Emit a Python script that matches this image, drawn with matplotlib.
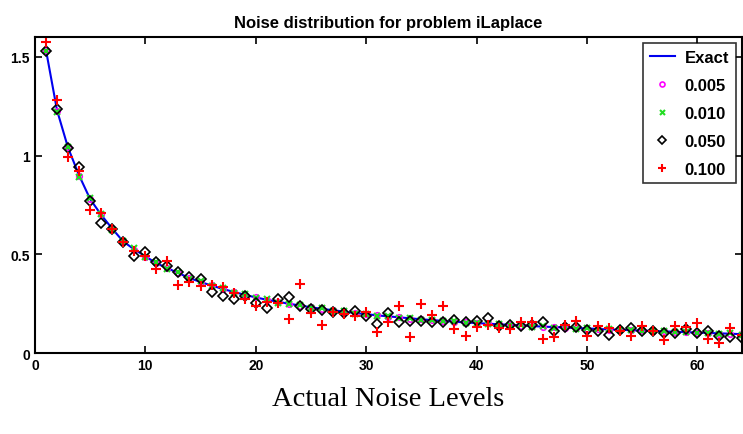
import numpy as np
import matplotlib
matplotlib.use("Agg")
import matplotlib.pyplot as plt

plt.rcParams['font.family'] = ['Liberation Sans', 'DejaVu Sans']

# values
x = np.arange(1, 65)
exact = [1.535, 1.23, 1.04, 0.90, 0.78, 0.70, 0.63, 0.565, 0.525, 0.49,
         0.455, 0.43, 0.405, 0.38, 0.36, 0.342, 0.325, 0.31, 0.295, 0.282,
         0.27, 0.26, 0.25, 0.241, 0.232, 0.224, 0.217, 0.21, 0.203, 0.197,
         0.191, 0.186, 0.181, 0.176, 0.171, 0.167, 0.163, 0.159, 0.155, 0.152,
         0.149, 0.146, 0.143, 0.14, 0.137, 0.134, 0.132, 0.129, 0.127, 0.125,
         0.122, 0.12, 0.118, 0.116, 0.114, 0.112, 0.11, 0.108, 0.106, 0.104,
         0.102, 0.1, 0.098, 0.096]
noise_005 = [1.535, 1.228, 1.042, 0.895, 0.778, 0.702, 0.628, 0.567, 0.522, 0.488,
             0.456, 0.431, 0.404, 0.381, 0.359, 0.343, 0.324, 0.311, 0.294, 0.283,
             0.271, 0.259, 0.251, 0.240, 0.233, 0.223, 0.218, 0.209, 0.204, 0.196,
             0.192, 0.185, 0.182, 0.175, 0.172, 0.166, 0.164, 0.158, 0.156, 0.151,
             0.150, 0.145, 0.144, 0.139, 0.138, 0.133, 0.133, 0.128, 0.128, 0.124,
             0.123, 0.119, 0.119, 0.115, 0.115, 0.111, 0.111, 0.107, 0.107, 0.103,
             0.103, 0.099, 0.099, 0.095]
noise_010 = [1.53, 1.22, 1.045, 0.89, 0.785, 0.705, 0.625, 0.57, 0.53, 0.485,
             0.46, 0.425, 0.41, 0.375, 0.365, 0.338, 0.33, 0.306, 0.298, 0.278,
             0.274, 0.256, 0.247, 0.244, 0.229, 0.227, 0.214, 0.213, 0.2, 0.199,
             0.188, 0.188, 0.178, 0.178, 0.168, 0.169, 0.16, 0.161, 0.152, 0.154,
             0.146, 0.148, 0.14, 0.142, 0.134, 0.136, 0.129, 0.131, 0.124, 0.127,
             0.12, 0.122, 0.116, 0.118, 0.112, 0.114, 0.113, 0.106, 0.108, 0.102,
             0.104, 0.098, 0.1, 0.094]
noise_050 = [1.53, 1.235, 1.04, 0.94, 0.77, 0.66, 0.63, 0.56, 0.49, 0.51,
             0.46, 0.44, 0.41, 0.387, 0.374, 0.31, 0.29, 0.276, 0.29, 0.253,
             0.226, 0.276, 0.286, 0.239, 0.222, 0.219, 0.21, 0.202, 0.215, 0.19,
             0.146, 0.202, 0.158, 0.163, 0.163, 0.155, 0.155, 0.168, 0.155, 0.16,
             0.18, 0.135, 0.14, 0.138, 0.14, 0.155, 0.113, 0.13, 0.13, 0.116,
             0.113, 0.091, 0.115, 0.125, 0.11, 0.11, 0.10, 0.10, 0.12, 0.104,
             0.11, 0.087, 0.079, 0.074]
noise_100 = [1.575, 1.28, 0.995, 0.92, 0.727, 0.707, 0.63, 0.562, 0.517, 0.49,
             0.424, 0.466, 0.345, 0.362, 0.34, 0.343, 0.337, 0.306, 0.273, 0.236,
             0.259, 0.255, 0.172, 0.348, 0.202, 0.141, 0.21, 0.2, 0.19, 0.209,
             0.108, 0.155, 0.239, 0.079, 0.247, 0.192, 0.239, 0.121, 0.087, 0.13,
             0.141, 0.125, 0.121, 0.158, 0.158, 0.071, 0.079, 0.141, 0.163, 0.087,
             0.138, 0.126, 0.113, 0.087, 0.138, 0.113, 0.065, 0.138, 0.13, 0.152,
             0.071, 0.05, 0.126, 0.09]

fig = plt.figure(figsize=(7.43, 4.35), dpi=100)
ax = fig.add_axes([0.047, 0.186, 0.951, 0.7264])

ax.plot(x, exact, color='#0000ee', lw=1.5, label='Exact')
ax.plot(x, noise_005, 'o', mfc='none', mec='magenta', ms=4, mew=1.2, ls='none', label='0.005')
ax.plot(x, noise_010, 'x', color='#22dd22', ms=4, mew=1.5, ls='none', label='0.010')
ax.plot(x, noise_050, 'D', mfc='none', mec='black', ms=5, mew=1.2, ls='none', label='0.050')
ax.plot(x, noise_100, '+', color='red', ms=6.5, mew=1.5, ls='none', label='0.100')

ax.set_xlim(0, 64)
ax.set_ylim(0, 1.6)
ax.set_xticks(np.arange(0, 61, 10))
ax.set_yticks([0, 0.5, 1, 1.5])
ax.set_yticklabels(['0', '0.5', '1', '1.5'])
ax.tick_params(direction='in', length=5, width=1.2, top=True, right=True,
               labelsize=10)
for lab in ax.get_xticklabels() + ax.get_yticklabels():
    lab.set_fontweight('bold')
for sp in ax.spines.values():
    sp.set_linewidth(1.5)

ax.set_title('Noise distribution for problem iLaplace', fontsize=12,
             fontweight='bold', pad=7)
ax.set_xlabel('Actual Noise Levels', fontsize=20.5, family=['Liberation Serif'],
              labelpad=10)

leg = ax.legend(loc='upper right', fancybox=False, edgecolor='black',
                prop={'weight': 'bold', 'size': 12}, handlelength=1.5,
                handletextpad=0.6, borderaxespad=0.35, labelspacing=0.78,
                markerscale=0.9)
leg.get_frame().set_linewidth(1.2)

fig.savefig('out.png', dpi=100)
